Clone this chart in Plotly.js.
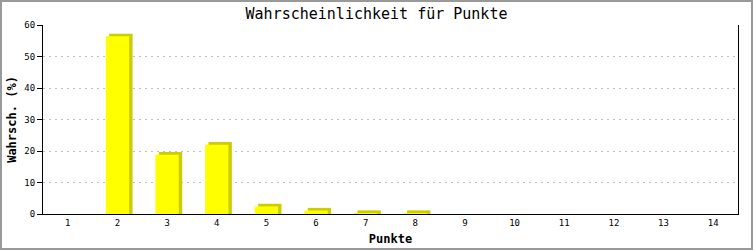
<!DOCTYPE html>
<html>
<head>
<meta charset="utf-8">
<script src="https://cdn.plot.ly/plotly-3.0.1.min.js"></script>
<style>
  html, body { margin: 0; padding: 0; background: #fff; }
  #wrap { position: relative; width: 753px; height: 250px; }
  #chart { position: absolute; left: 0; top: 0; width: 753px; height: 250px; }
  #frame { position: absolute; left: 0; top: 0; width: 749px; height: 246px;
           border: 2px solid #999; pointer-events: none; }
</style>
</head>
<body>
<div id="wrap"><div id="chart"></div><div id="frame"></div></div>
<script>
// Data
const punkte = [1, 2, 3, 4, 5, 6, 7, 8, 9, 10, 11, 12, 13, 14];
const tickLabels = ['1','2','3','4','5','6','7','8','9','10','11','12','13','14'];
const wahrscheinlichkeit = [0, 56.4, 18.8, 22.0, 2.4, 1.1, 0.3, 0.3, 0, 0, 0, 0, 0, 0];

const chartTitle = 'Wahrscheinlichkeit für Punkte';
const xTitle = 'Punkte';
const yTitle = 'Wahrsch. (%)';

// 3D-shadow style offsets (style, not data)
const shadowLift = 0.85;   // in y units (~3px)
const shadowShift = 0.069; // in category units (~3.5px)
const barWidth = 0.47;

const shadowVals = wahrscheinlichkeit.map(v => v > 0 ? v + shadowLift : 0);

const mono = '"DejaVu Sans Mono", "Liberation Mono", monospace';

const traces = [
  {
    type: 'bar', x: punkte, y: shadowVals,
    width: barWidth, offset: -barWidth / 2 + shadowShift,
    marker: { color: '#cccc00', line: { width: 0 } },
    hoverinfo: 'skip', showlegend: false
  },
  {
    type: 'bar', x: punkte, y: wahrscheinlichkeit,
    width: barWidth, offset: -barWidth / 2,
    marker: { color: '#ffff00', line: { width: 0 } },
    showlegend: false
  }
];

const layout = {
  width: 753, height: 250,
  margin: { l: 43, r: 15, t: 25, b: 36, pad: 0 },
  paper_bgcolor: '#ffffff', plot_bgcolor: '#ffffff',
  barmode: 'overlay',
  showlegend: false,
  title: {
    text: chartTitle,
    font: { family: mono, size: 15, color: '#000', weight: 'normal' },
    x: 0.5, xref: 'container', xanchor: 'center',
    y: 1 - 14 / 250, yref: 'container', yanchor: 'middle'
  },
  xaxis: {
    range: [0.5, 14.5],
    tickmode: 'array', tickvals: punkte, ticktext: tickLabels,
    ticks: '', showgrid: false, zeroline: false,
    showline: true, linecolor: '#000', linewidth: 1,
    tickfont: { family: mono, size: 9, color: '#000' },
    title: { text: xTitle, standoff: 7,
             font: { family: mono, size: 12, color: '#000', weight: 'bold' } }
  },
  yaxis: {
    range: [0, 60], dtick: 10, tick0: 0,
    ticks: 'outside', ticklen: 5, tickcolor: '#000', tickwidth: 1,
    showgrid: true, gridcolor: '#c0c0c0', gridwidth: 1, griddash: '2px,4px',
    zeroline: false,
    showline: true, linecolor: '#000', linewidth: 1, mirror: true,
    tickfont: { family: mono, size: 9, color: '#000' },
    title: { text: yTitle, standoff: 5,
             font: { family: mono, size: 12, color: '#000', weight: 'bold' } }
  }
};

Plotly.newPlot('chart', traces, layout, { staticPlot: true, displayModeBar: false });
</script>
</body>
</html>
